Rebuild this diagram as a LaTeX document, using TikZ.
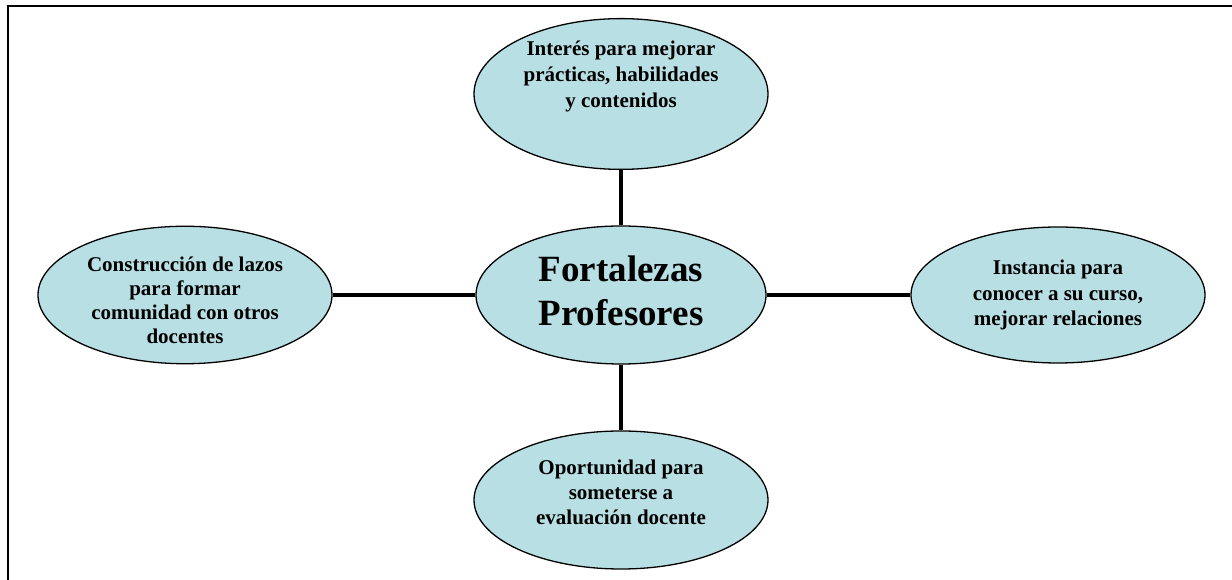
\documentclass[tikz,border=0pt]{standalone}
\usepackage{fontspec}
\setmainfont{Liberation Serif}
\usetikzlibrary{shapes.geometric}
\definecolor{bubblefill}{RGB}{184,223,227}
\begin{document}
\begin{tikzpicture}[x=1pt,y=1pt,
	bubble/.style={ellipse,draw,line width=1.3,fill=bubblefill,inner sep=0,
		minimum width=294,minimum height=136,align=center,
		font=\fontsize{21}{24.5}\selectfont\bfseries},
	hub/.style={bubble,minimum width=290,minimum height=138,
		font=\fontsize{37}{44}\selectfont\bfseries},
	link/.style={line width=4.5}]
	\useasboundingbox (0, 0) rectangle (1232, 580);
	\draw [line width=2.2] (7.8, 0) -- (7.8, 573.8) -- (1232, 573.8);
	
	\node [hub] (ctr) at (621, 285) {Fortalezas\\Profesores\\[-36pt]};
	
	\node [bubble, minimum height=132,
		font=\fontsize{21}{26}\selectfont\bfseries] (top) at (621, 486)
		{Interés para mejorar\\prácticas, habilidades\\y contenidos\\[14pt]};
	\node [bubble, font=\fontsize{21}{24}\selectfont\bfseries] (left) at (185, 285)
		{\rule{0pt}{25pt}Construcción de lazos\\para formar\\comunidad con otros\\docentes};
	\node [bubble, font=\fontsize{21}{25.5}\selectfont\bfseries] (right) at (1058, 285)
		{Instancia para\\conocer a su curso,\\mejorar relaciones};
	\node [bubble, minimum height=138,
		font=\fontsize{21}{25}\selectfont\bfseries] (bot) at (621, 80)
		{Oportunidad para\\someterse a\\evaluación docente\\[-9pt]};
	
	\draw [link] (ctr) -- (top);
	\draw [link] (ctr) -- (left);
	\draw [link] (ctr) -- (right);
	\draw [link] (ctr) -- (bot);
\end{tikzpicture}
\end{document}
